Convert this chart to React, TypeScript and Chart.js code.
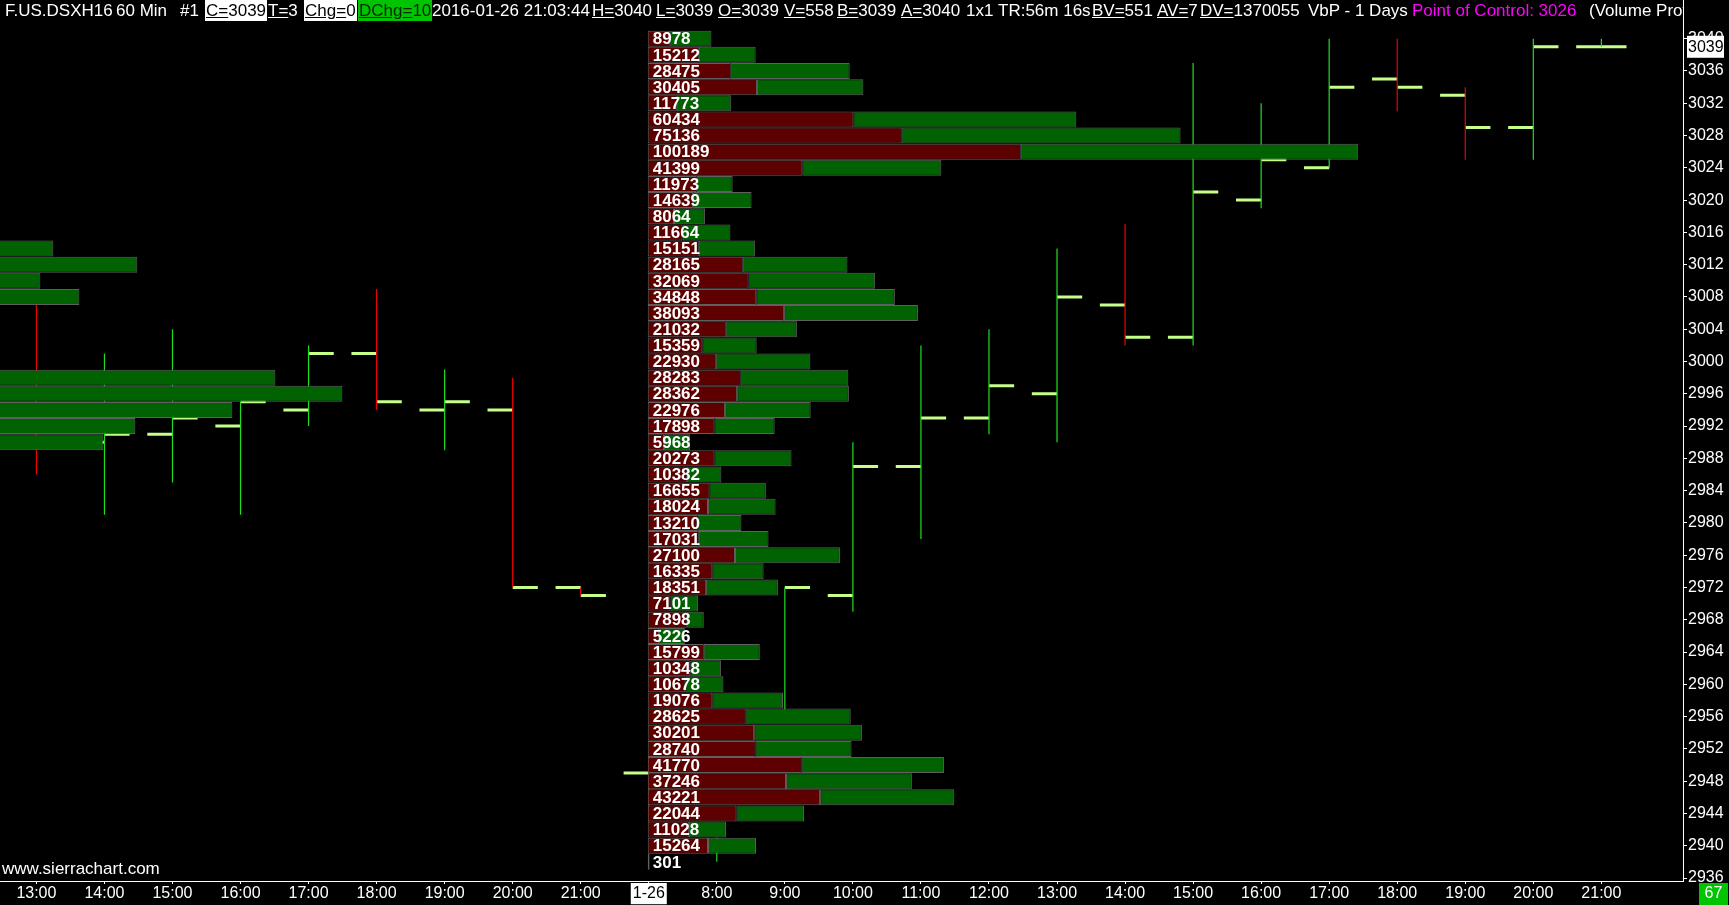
import React, { useEffect, useRef } from 'react';
import { Chart, registerables } from 'chart.js';

Chart.register(...registerables);

// ---------------- data ----------------
const timeLabels = ['13:00', '14:00', '15:00', '16:00', '17:00', '18:00', '19:00', '20:00', '21:00', '1-26', '8:00', '9:00', '10:00', '11:00', '12:00', '13:00', '14:00', '15:00', '16:00', '17:00', '18:00', '19:00', '20:00', '21:00'];
const barOpen = [2996, 2990, 2991, 2992, 2994, 3001, 2994, 2994, 2972, 2949, 2940, 2956, 2971, 2987, 2993, 2996, 3007, 3003, 3020, 3024, 3035, 3033, 3029, 3039];
const barHigh = [3007, 3001, 3004, 2995, 3002, 3009, 2999, 2998, 2972, 2951, 2941, 2972, 2990, 3002, 3004, 3014, 3017, 3037, 3032, 3040, 3040, 3034, 3040, 3040];
const barLow = [2986, 2981, 2985, 2981, 2992, 2994, 2989, 2972, 2971, 2943, 2938, 2956, 2969, 2978, 2991, 2990, 3002, 3002, 3019, 3024, 3031, 3025, 3025, 3039];
const barClose = [2992, 2991, 2993, 2995, 3001, 2995, 2995, 2972, 2971, 2944, 2940, 2972, 2987, 2993, 2997, 3008, 3003, 3021, 3025, 3034, 3034, 3029, 3039, 3039];

const profilePrices = [3040, 3038, 3036, 3034, 3032, 3030, 3028, 3026, 3024, 3022, 3020, 3018, 3016, 3014, 3012, 3010, 3008, 3006, 3004, 3002, 3000, 2998, 2996, 2994, 2992, 2990, 2988, 2986, 2984, 2982, 2980, 2978, 2976, 2974, 2972, 2970, 2968, 2966, 2964, 2962, 2960, 2958, 2956, 2954, 2952, 2950, 2948, 2946, 2944, 2942, 2940, 2938];
const profileVolumes = [8978, 15212, 28475, 30405, 11773, 60434, 75136, 100189, 41399, 11973, 14639, 8064, 11664, 15151, 28165, 32069, 34848, 38093, 21032, 15359, 22930, 28283, 28362, 22976, 17898, 5968, 20273, 10382, 16655, 18024, 13210, 17031, 27100, 16335, 18351, 7101, 7898, 5226, 15799, 10348, 10678, 19076, 28625, 30201, 28740, 41770, 37246, 43221, 22044, 11028, 15264, 301];
const profileBidVolumes = [3100, 7200, 11700, 15400, 4100, 29000, 35800, 52600, 21800, 6900, 6400, 3700, 4900, 7200, 13400, 14200, 15300, 19200, 11000, 7700, 9600, 13100, 12600, 10900, 9400, 2300, 9400, 5500, 8700, 8500, 7000, 7200, 12300, 9100, 8200, 3200, 5500, 1600, 7900, 6000, 5300, 9100, 13800, 15000, 15200, 21700, 19500, 24300, 12500, 5800, 8500, 250];

const prevDayPrices = [3014, 3012, 3010, 3008, 2998, 2996, 2994, 2992, 2990];
const prevDayVolumes = [59960, 71800, 58130, 63630, 91270, 100720, 85200, 71520, 67010];
const prevDayBidVolumes = [30500, 36000, 29500, 32000, 45000, 50500, 43000, 36500, 34000];

const priceTicks = [2936, 2940, 2944, 2948, 2952, 2956, 2960, 2964, 2968, 2972, 2976, 2980, 2984, 2988, 2992, 2996, 3000, 3004, 3008, 3012, 3016, 3020, 3024, 3028, 3032, 3036, 3040];
const lastPrice = 3039;
const countdownText = '67';

// ---------------- layout constants ----------------
const W = 1729;
const H = 905;
const PLOT_TOP = 22;
const Y_AXIS_W = 46;
const X_AXIS_H = 24;
const X_MIN = -0.535;
const X_MAX = 24.2;
const Y_MIN = 2935.63;
const Y_MAX = 3042.07;
const VOL_PER_SLOT = 9595;
const TODAY_START = 8.985;
const PREV_START = -6;
const TICK_LEN = 0.37;
const FONT = '"Liberation Sans", Arial, sans-serif';

const RED = '#5e0000';
const GREEN = '#006200';
const BORDER = '#5f5f5f';

type Seg = { text: string; left: number; ul?: number; bg?: string; color?: string };
const headerSegments: Seg[] = [
  { text: 'F.US.DSXH16', left: 5 },
  { text: '60 Min', left: 116 },
  { text: '#1', left: 180 },
  { text: 'C=3039', left: 205, ul: 2, bg: '#ffffff', color: '#000000' },
  { text: 'T=3', left: 268, ul: 2 },
  { text: 'Chg=0', left: 304, ul: 4, bg: '#ffffff', color: '#000000' },
  { text: 'DChg=10', left: 358, ul: 5, bg: '#00c400', color: '#002800' },
  { text: '2016-01-26 21:03:44', left: 432 },
  { text: 'H=3040', left: 592, ul: 2 },
  { text: 'L=3039', left: 656, ul: 2 },
  { text: 'O=3039', left: 718, ul: 2 },
  { text: 'V=558', left: 784, ul: 2 },
  { text: 'B=3039', left: 837, ul: 2 },
  { text: 'A=3040', left: 901, ul: 2 },
  { text: '1x1', left: 966 },
  { text: 'TR:56m 16s', left: 998 },
  { text: 'BV=551', left: 1092, ul: 3 },
  { text: 'AV=7', left: 1157, ul: 3 },
  { text: 'DV=1370055', left: 1200, ul: 3 },
  { text: 'VbP - 1 Days', left: 1308 },
  { text: 'Point of Control: 3026', left: 1412, color: '#ff00ff' },
  { text: '(Volume Profile)', left: 1589 },
];

function wickPoints(up: boolean) {
  const pts: any[] = [];
  barOpen.forEach((o, i) => {
    const isUp = barClose[i] >= o;
    if (isUp !== up) return;
    pts.push({ x: i, y: barLow[i] }, { x: i, y: barHigh[i] }, { x: i, y: null });
  });
  return pts;
}

function tickPoints() {
  const pts: any[] = [];
  barOpen.forEach((o, i) => {
    pts.push(
      { x: i - TICK_LEN, y: o },
      { x: i, y: o },
      { x: i, y: null },
      { x: i, y: barClose[i] },
      { x: i + TICK_LEN, y: barClose[i] },
      { x: i + TICK_LEN, y: null }
    );
  });
  return pts;
}

const overlayPlugin = {
  id: 'overlay',
  afterDatasetsDraw(chart: any) {
    const { ctx, scales } = chart;
    const xv = scales.xv;
    const y = scales.y;
    ctx.save();
    ctx.font = `bold 17px ${FONT}`;
    ctx.fillStyle = '#ffffff';
    ctx.textBaseline = 'middle';
    ctx.textAlign = 'left';
    const x0 = xv.getPixelForValue(0) + 5;
    profilePrices.forEach((p, i) => {
      ctx.fillText(String(profileVolumes[i]), x0, y.getPixelForValue(p) + 1);
    });
    ctx.restore();
  },
  afterDraw(chart: any) {
    const { ctx, scales, chartArea } = chart;
    const y = scales.y;
    ctx.save();
    ctx.strokeStyle = '#ffffff';
    ctx.lineWidth = 1;
    ctx.beginPath();
    ctx.moveTo(chartArea.right + 0.5, 0);
    ctx.lineTo(chartArea.right + 0.5, chartArea.top);
    ctx.stroke();
    ctx.fillStyle = '#000';
    ctx.fillRect(chartArea.right + 1, chartArea.bottom + 1, W - chartArea.right, H - chartArea.bottom);
    const py = y.getPixelForValue(lastPrice);
    ctx.fillStyle = '#ffffff';
    ctx.fillRect(chartArea.right + 4, py - 11, 37, 22);
    ctx.fillStyle = '#000000';
    ctx.font = `16px ${FONT}`;
    ctx.textBaseline = 'middle';
    ctx.textAlign = 'left';
    ctx.fillText(String(lastPrice), chartArea.right + 5, py + 1);
    ctx.fillStyle = '#00c400';
    ctx.fillRect(W - 30, chartArea.bottom + 2, 29, H - chartArea.bottom - 2);
    ctx.fillStyle = '#ffffff';
    ctx.textAlign = 'center';
    ctx.fillText(countdownText, W - 15.5, chartArea.bottom + 13);
    ctx.restore();
  },
};

export default function App() {
  const ref = useRef<HTMLCanvasElement | null>(null);

  useEffect(() => {
    const canvas = ref.current;
    if (!canvas) return;
    Chart.defaults.font.family = FONT;

    const barCommon = {
      type: 'bar', indexAxis: 'y', yAxisID: 'y', order: 0,
      borderColor: BORDER, borderWidth: 1, borderSkipped: false,
      barThickness: 16, grouped: false, inflateAmount: 0,
    };

    const datasets: any[] = [
      {
        ...barCommon, xAxisID: 'xv', backgroundColor: RED,
        data: profilePrices.map((p, i) => ({ y: p, x: [0, profileBidVolumes[i]] })),
      },
      {
        ...barCommon, xAxisID: 'xv', backgroundColor: GREEN,
        data: profilePrices.map((p, i) => ({ y: p, x: [profileBidVolumes[i], profileVolumes[i]] })),
      },
      {
        ...barCommon, xAxisID: 'xp', backgroundColor: RED,
        data: prevDayPrices.map((p, i) => ({ y: p, x: [0, prevDayBidVolumes[i]] })),
      },
      {
        ...barCommon, xAxisID: 'xp', backgroundColor: GREEN,
        data: prevDayPrices.map((p, i) => ({ y: p, x: [prevDayBidVolumes[i], prevDayVolumes[i]] })),
      },
      {
        type: 'line', xAxisID: 'x', yAxisID: 'y', order: 2,
        data: tickPoints(), borderColor: '#c6ff8a', borderWidth: 3, borderCapStyle: 'butt',
        pointRadius: 0, pointHoverRadius: 0, spanGaps: false, tension: 0, fill: false,
      },
      {
        type: 'line', xAxisID: 'x', yAxisID: 'y', order: 1,
        data: wickPoints(true), borderColor: '#1ee01e', borderWidth: 1.2,
        pointRadius: 0, pointHoverRadius: 0, spanGaps: false, tension: 0, fill: false,
      },
      {
        type: 'line', xAxisID: 'x', yAxisID: 'y', order: 1,
        data: wickPoints(false), borderColor: '#f00000', borderWidth: 1.2,
        pointRadius: 0, pointHoverRadius: 0, spanGaps: false, tension: 0, fill: false,
      },
    ];

    const chart = new Chart(canvas, {
      type: 'line',
      data: { datasets },
      plugins: [overlayPlugin],
      options: {
        responsive: false,
        animation: false,
        devicePixelRatio: 1,
        events: [],
        layout: { autoPadding: false, padding: { top: PLOT_TOP, left: 0, right: 0, bottom: 0 } },
        plugins: { legend: { display: false }, tooltip: { enabled: false } },
        scales: {
          x: {
            type: 'linear', position: 'bottom', min: X_MIN, max: X_MAX, offset: false, bounds: 'data',
            afterBuildTicks: (scale: any) => {
              scale.ticks = timeLabels.map((_, i) => ({ value: i }));
            },
            afterFit: (scale: any) => { scale.height = X_AXIS_H; },
            ticks: {
              autoSkip: false, maxRotation: 0, padding: 0,
              font: { size: 16, family: FONT },
              callback: (v: any) => timeLabels[Math.round(v)] ?? '',
              color: (c: any) => (c.index === 9 ? '#000000' : '#ffffff'),
              showLabelBackdrop: (c: any) => c.index === 9,
              backdropColor: '#ffffff',
              backdropPadding: { left: 2, right: 2, top: 1, bottom: 1 },
            },
            grid: { display: true, offset: false, drawOnChartArea: false, drawTicks: true, tickLength: 3, color: '#ffffff' },
            border: { display: true, color: '#ffffff', width: 1 },
          },
          xv: {
            type: 'linear', axis: 'x', display: false, offset: false, bounds: 'data', beginAtZero: false,
            min: (X_MIN - TODAY_START) * VOL_PER_SLOT, max: (X_MAX - TODAY_START) * VOL_PER_SLOT,
          },
          xp: {
            type: 'linear', axis: 'x', display: false, offset: false, bounds: 'data', beginAtZero: false,
            min: (X_MIN - PREV_START) * VOL_PER_SLOT, max: (X_MAX - PREV_START) * VOL_PER_SLOT,
          },
          y: {
            type: 'linear', position: 'right', min: Y_MIN, max: Y_MAX, offset: false, bounds: 'data',
            afterBuildTicks: (scale: any) => {
              scale.ticks = priceTicks.map((v) => ({ value: v }));
            },
            afterFit: (scale: any) => { scale.width = Y_AXIS_W; },
            ticks: {
              color: '#ffffff', padding: 1, font: { size: 16, family: FONT }, autoSkip: false,
              callback: (v: any) => String(v),
            },
            grid: { display: true, offset: false, drawOnChartArea: false, drawTicks: true, tickLength: 4, color: '#ffffff' },
            border: { display: true, color: '#ffffff', width: 1 },
          },
        },
      } as any,
    } as any);

    return () => chart.destroy();
  }, []);

  return (
    <div style={{ position: 'fixed', left: 0, top: 0, width: W, height: H, background: '#000', overflow: 'hidden' }}>
      <canvas ref={ref} width={W} height={H} style={{ position: 'absolute', left: 0, top: 0, width: W, height: H }} />
      <div style={{ position: 'absolute', left: 0, top: 0, width: W - Y_AXIS_W, height: PLOT_TOP, overflow: 'hidden', fontFamily: FONT, fontSize: 17, color: '#fff', whiteSpace: 'pre' }}>
        {headerSegments.map((s, i) => (
          <div key={i} style={{ position: 'absolute', left: s.left, top: 0, height: 21, lineHeight: '21px', padding: s.bg ? '0 1px' : 0, background: s.bg ?? 'transparent', color: s.color ?? '#fff' }}>
            {s.ul ? (
              <>
                <span style={{ textDecoration: 'underline' }}>{s.text.slice(0, s.ul)}</span>
                {s.text.slice(s.ul)}
              </>
            ) : s.text}
          </div>
        ))}
      </div>
      <div style={{ position: 'absolute', left: 2, top: 859, fontFamily: FONT, fontSize: 17, color: '#fff', lineHeight: '20px', whiteSpace: 'pre' }}>
        www.sierrachart.com
      </div>
    </div>
  );
}
